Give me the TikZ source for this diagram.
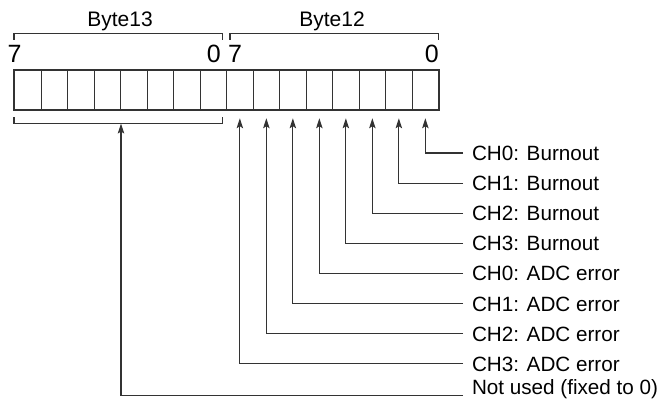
\documentclass[tikz,border=0pt]{standalone}
\usepackage{fontspec}
\setmainfont{Liberation Sans}
\usetikzlibrary{arrows.meta}
\begin{document}
\begin{tikzpicture}[x=0.75pt,y=-0.75pt,
  ln/.style={draw=black!80, line width=0.9pt},
  cell/.style={ln, minimum width=19.875pt, minimum height=28.875pt, inner sep=0pt, anchor=north west},
  lbl/.style={anchor=west, inner sep=0pt, outer xsep=6.75pt, outer ysep=0pt, text height=11.3pt, text depth=0pt, font=\fontsize{15.5pt}{18pt}\selectfont},
  hdr/.style={anchor=base, inner sep=0pt, font=\fontsize{15.75pt}{18pt}\selectfont},
  dig/.style={anchor=base, inner sep=0pt, font=\fontsize{18.75pt}{22pt}\selectfont},
  arr/.style={ln, -{Stealth[length=7.5pt,width=4.8pt,inset=1.5pt]}},
]
\useasboundingbox (0,0) rectangle (667,403);
% cells
\foreach \k in {7,...,0} {
  \node[cell] (b13-\k) at ({14+26.5*(7-\k)},70) {};
  \node[cell] (b12-\k) at ({14+26.5*(15-\k)},70) {};
}
\draw[ln, line width=1.2pt] (b13-7.north west) rectangle (b12-0.south east);
% headers and brackets
\node[hdr] (h13) at (120,27) {Byte13};
\node[hdr] (h12) at (332,27) {Byte12};
\draw[ln] (14,40) -- (14,33.3) -- (222.7,33.3) -- (222.7,40);
\draw[ln] (230,40) -- (230,33.3) -- (438.3,33.3) -- (438.3,40);
\node[dig] (d13h) at (14.5,63) {7};
\node[dig] (d13l) at (213.7,63) {0};
\node[dig] (d12h) at (235,63) {7};
\node[dig] (d12l) at (431.7,63) {0};
% bottom bracket under Byte13
\draw[ln] (14,117) -- (14,123.5) -- (222.7,123.5) -- (222.7,117);
\coordinate (br) at (121,123.5);
% labels
\node[lbl] (l0) at (463,153) {CH0: Burnout};
\node[lbl] (l1) at (463,183.1) {CH1: Burnout};
\node[lbl] (l2) at (463,213.2) {CH2: Burnout};
\node[lbl] (l3) at (463,243.3) {CH3: Burnout};
\node[lbl] (l4) at (463,273.4) {CH0: ADC error};
\node[lbl] (l5) at (463,303.5) {CH1: ADC error};
\node[lbl] (l6) at (463,333.6) {CH2: ADC error};
\node[lbl] (l7) at (463,363.7) {CH3: ADC error};
\node[lbl] (nu) at (463,387) {Not used (fixed to 0)};
% connectors
\foreach \k in {0,...,7} {
  \draw[arr] (l\k.west) -| ([yshift=-6.4pt]b12-\k.south);
}
\draw[arr] ([yshift=-6.3pt]nu.west) -| (br);
\end{tikzpicture}
\end{document}
